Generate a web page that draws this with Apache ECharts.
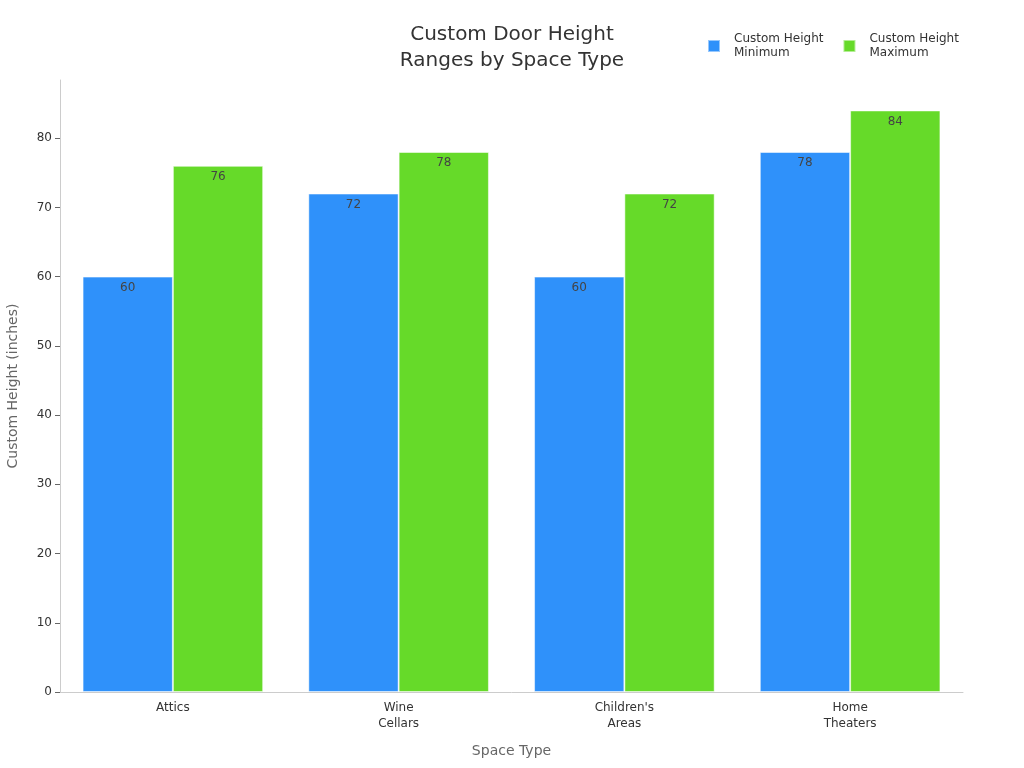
<!DOCTYPE html>
<html><head><meta charset="utf-8">
<script src="https://cdn.jsdelivr.net/npm/echarts@6/dist/echarts.min.js"></script>
<style>html,body{margin:0;padding:0;background:#fff}#c{width:1024px;height:768px}</style>
</head><body><div id="c"></div>
<script>
const categories = ["Attics", "Wine\nCellars", "Children's\nAreas", "Home\nTheaters"];
const minHeights = [60, 72, 60, 78];
const maxHeights = [76, 78, 72, 84];
const yTicks = [0, 10, 20, 30, 40, 50, 60, 70, 80];
const seriesNames = ["Custom Height\nMinimum", "Custom Height\nMaximum"];

const chart = echarts.init(document.getElementById('c'));
const font = "DejaVu Sans";
chart.setOption({
  animation: false,
  textStyle: {fontFamily: font},
  title: {
    text: "Custom Door Height\nRanges by Space Type",
    left: 'center', top: 17,
    textStyle: {fontFamily: font, fontSize: 20, fontWeight: 'normal', color: '#333', lineHeight: 26}
  },
  legend: {
    top: 27, left: 702,
    itemWidth: 12, itemHeight: 12, itemGap: 19,
    icon: 'rect',
    textStyle: {fontFamily: font, fontSize: 12, color: '#333', lineHeight: 14, padding: [0, 0, 0, 9]}
  },
  grid: {left: 60, right: 61, top: 80, bottom: 76, containLabel: false, outerBoundsMode: 'none'},
  xAxis: {
    type: 'category', data: categories,
    name: 'Space Type', nameLocation: 'middle', nameGap: 52,
    nameTextStyle: {fontFamily: font, fontSize: 14, color: '#666'},
    axisLine: {lineStyle: {color: '#ccc'}},
    axisTick: {alignWithLabel: true, length: 5, lineStyle: {color: '#666'}},
    axisLabel: {fontFamily: font, fontSize: 12, color: '#333', lineHeight: 16, margin: 8}
  },
  yAxis: {
    type: 'value', min: 0, max: 88.4, interval: 10,
    name: 'Custom Height (inches)', nameLocation: 'middle', nameGap: 40,
    nameTextStyle: {fontFamily: font, fontSize: 14, color: '#666'},
    splitLine: {show: false},
    axisLine: {show: true, lineStyle: {color: '#ccc'}},
    axisTick: {show: true, length: 5, lineStyle: {color: '#666'}, customValues: yTicks},
    axisLabel: {fontFamily: font, fontSize: 12, color: '#333', margin: 8, customValues: yTicks}
  },
  series: [
    {
      name: seriesNames[0], type: 'bar', data: minHeights,
      barGap: '0%', barCategoryGap: '20%',
      itemStyle: {color: '#2F91FA', borderColor: 'rgba(255,255,255,0.5)', borderWidth: 1},
      label: {show: true, position: 'insideTop', distance: 5, color: '#444', fontFamily: font, fontSize: 12}
    },
    {
      name: seriesNames[1], type: 'bar', data: maxHeights,
      barGap: '0%', barCategoryGap: '20%',
      itemStyle: {color: '#66DA29', borderColor: 'rgba(255,255,255,0.5)', borderWidth: 1},
      label: {show: true, position: 'insideTop', distance: 5, color: '#444', fontFamily: font, fontSize: 12}
    }
  ]
});
</script></body></html>
